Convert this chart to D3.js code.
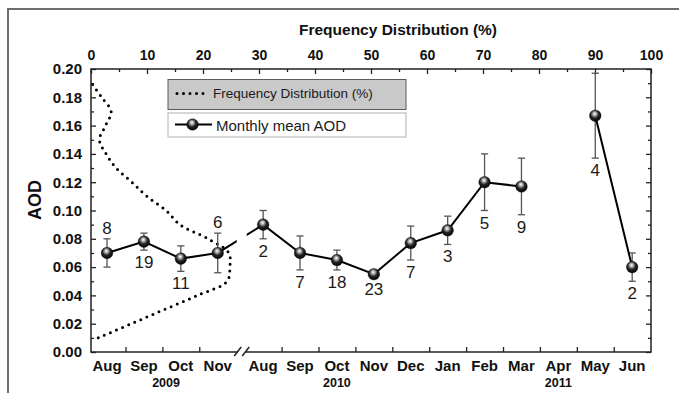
<!DOCTYPE html>
<html>
<head>
<meta charset="utf-8">
<script src="https://cdn.jsdelivr.net/npm/d3@7"></script>
<style>
  html, body { margin: 0; padding: 0; background: #fff; }
  svg { display: block; font-family: "Liberation Sans", Arial, sans-serif; }
</style>
</head>
<body>
<svg id="chart" width="679" height="393"></svg>
<script>
// Monthly categories along the bottom axis (2009 block, axis break, 2010-2011 block)
const months = ["Aug", "Sep", "Oct", "Nov", "Aug", "Sep", "Oct", "Nov", "Dec", "Jan", "Feb", "Mar", "Apr", "May", "Jun"];
const monthYears = [2009, 2009, 2009, 2009, 2010, 2010, 2010, 2010, 2010, 2011, 2011, 2011, 2011, 2011, 2011];

// Monthly mean AOD, its error (±) and number of observations
const aodMean = [0.070, 0.078, 0.066, 0.070, 0.090, 0.070, 0.065, 0.055, 0.077, 0.086, 0.120, 0.117, null, 0.167, 0.060];
const aodErr  = [0.010, 0.006, 0.009, 0.014, 0.010, 0.012, 0.007, 0.002, 0.012, 0.010, 0.020, 0.020, null, 0.030, 0.010];
const obsCount = [8, 19, 11, 6, 2, 7, 18, 23, 7, 3, 5, 9, null, 4, 2];
const countAbove = [true, false, false, true, false, false, false, false, false, false, false, false, false, false, false];

// Frequency distribution of AOD (%), by AOD level
const freqAOD = [0.01, 0.02, 0.03, 0.04, 0.05, 0.06, 0.07, 0.08, 0.09, 0.10, 0.11, 0.12, 0.13, 0.14, 0.15, 0.16, 0.17, 0.18, 0.19];
const freqPct = [1.3, 7.2, 13.1, 19.0, 24.3, 24.8, 24.6, 20.9, 15.9, 13.4, 10.0, 7.3, 4.5, 2.7, 1.5, 2.6, 3.6, 1.9, 0.1];

// Axis ticks
const aodTicks = [0.00, 0.02, 0.04, 0.06, 0.08, 0.10, 0.12, 0.14, 0.16, 0.18, 0.20];
const freqTicks = [0, 10, 20, 30, 40, 50, 60, 70, 80, 90, 100];
const yearLabels = ["2009", "2010", "2011"];

const svg = d3.select("#chart");
const plot = { left: 91, right: 651, top: 69, bottom: 352 };

// Month positions: the later block is shifted to leave room for the axis break
const slotOf = i => (i < 4 ? i : i + 0.23);
const breakSlot = 3.65;

const x = d3.scaleLinear().domain([-0.434, 14.74]).range([plot.left, plot.right]);
const y = d3.scaleLinear().domain([0, 0.2]).range([plot.bottom, plot.top]);
const xf = d3.scaleLinear().domain([0, 100]).range([plot.left, plot.right]);

const defs = svg.append("defs");
const grad = defs.append("radialGradient").attr("id", "ball")
  .attr("cx", "45%").attr("cy", "40%").attr("r", "62%")
  .attr("fx", "45%").attr("fy", "32%");
[["0%", "#ffffff"], ["22%", "#b8b8b8"], ["55%", "#262626"], ["100%", "#000000"]]
  .forEach(([o, c]) => grad.append("stop").attr("offset", o).attr("stop-color", c));

const breakX = x(breakSlot);
const clip = defs.append("clipPath").attr("id", "brk");
clip.append("rect").attr("x", 0).attr("y", 0).attr("width", breakX - 5).attr("height", 393);
clip.append("rect").attr("x", breakX + 5).attr("y", 0).attr("width", 679).attr("height", 393);

// Figure frame
svg.append("rect").attr("x", 8).attr("y", 9).attr("width", 700).attr("height", 400)
  .attr("fill", "none").attr("stroke", "#6e6e6e").attr("stroke-width", 2);

// Frequency distribution curve (dotted)
const freqLine = d3.line()
  .x(d => xf(d[1])).y(d => y(d[0]))
  .curve(d3.curveCatmullRom.alpha(0.5));
svg.append("path").datum(d3.zip(freqAOD, freqPct))
  .attr("d", freqLine).attr("fill", "none")
  .attr("stroke", "#000").attr("stroke-width", 3)
  .attr("stroke-linecap", "round").attr("stroke-dasharray", "0 6.6");

// Axes
const axisStyle = g => {
  g.select(".domain").remove();
  g.selectAll(".tick line").attr("stroke", "#222").attr("stroke-width", 1.3);
  g.selectAll(".tick text").attr("fill", "#111").attr("font-weight", "bold")
    .attr("font-family", "'Liberation Sans', Arial, sans-serif");
};
const minorAod = d3.range(1, 20, 2).map(v => v / 100);
const minorFreq = d3.range(5, 100, 10);

svg.append("g").attr("transform", `translate(${plot.left},0)`)
  .call(d3.axisLeft(y).tickValues(aodTicks).tickFormat(d3.format(".2f"))
    .tickSizeInner(-5).tickSizeOuter(0).tickPadding(9))
  .call(axisStyle)
  .call(g => g.selectAll(".tick text").attr("font-size", 15));
svg.append("g").attr("transform", `translate(${plot.left},0)`)
  .call(d3.axisLeft(y).tickValues(minorAod).tickFormat("").tickSizeInner(-3).tickSizeOuter(0))
  .call(axisStyle);
svg.append("g").attr("transform", `translate(${plot.right},0)`)
  .call(d3.axisRight(y).tickValues(aodTicks).tickFormat("").tickSizeInner(-5).tickSizeOuter(0))
  .call(axisStyle);
svg.append("g").attr("transform", `translate(${plot.right},0)`)
  .call(d3.axisRight(y).tickValues(minorAod).tickFormat("").tickSizeInner(-3).tickSizeOuter(0))
  .call(axisStyle);

svg.append("g").attr("transform", `translate(0,${plot.top})`)
  .call(d3.axisTop(xf).tickValues(freqTicks).tickFormat(d3.format("d"))
    .tickSizeInner(-5).tickSizeOuter(0).tickPadding(9))
  .call(axisStyle)
  .call(g => g.selectAll(".tick text").attr("font-size", 14));
svg.append("g").attr("transform", `translate(0,${plot.top})`)
  .call(d3.axisTop(xf).tickValues(minorFreq).tickFormat("").tickSizeInner(-3).tickSizeOuter(0))
  .call(axisStyle);

// Bottom ticks sit on the boundaries between months
const bounds = [];
for (let i = 0; i < months.length - 1; i++) {
  if (i === 3) continue;
  bounds.push((slotOf(i) + slotOf(i + 1)) / 2);
}
svg.append("g").attr("transform", `translate(0,${plot.bottom})`)
  .call(d3.axisBottom(x).tickValues(bounds).tickFormat("").tickSizeInner(-5).tickSizeOuter(0))
  .call(axisStyle);

// Plot frame with a broken bottom axis
const frame = svg.append("g").attr("stroke", "#222").attr("stroke-width", 1.5).attr("fill", "none");
frame.append("path").attr("d",
  `M${breakX - 4},${plot.bottom}H${plot.left}V${plot.top}H${plot.right}V${plot.bottom}H${breakX + 4}`);
[breakX - 4, breakX + 4].forEach(cx => {
  frame.append("line").attr("x1", cx - 3.5).attr("y1", plot.bottom + 4)
    .attr("x2", cx + 3.5).attr("y2", plot.bottom - 5);
});

// Month and year labels
svg.append("g").selectAll("text").data(months).join("text")
  .attr("x", (d, i) => x(slotOf(i))).attr("y", plot.bottom + 18.5)
  .attr("text-anchor", "middle").attr("font-size", 15).attr("font-weight", "bold")
  .attr("fill", "#111").text(d => d);

const yearCenter = yr => {
  const idx = monthYears.map((v, i) => (String(v) === yr ? i : -1)).filter(i => i >= 0);
  if (yr === "2011") return x(slotOf(idx[3]));
  return x(d3.mean(idx, slotOf) + (yr === "2009" ? 0.1 : 0));
};
svg.append("g").selectAll("text").data(yearLabels).join("text")
  .attr("x", d => yearCenter(d)).attr("y", plot.bottom + 35)
  .attr("text-anchor", "middle").attr("font-size", 12.5).attr("font-weight", "bold")
  .attr("fill", "#111").text(d => d);

// Axis titles
svg.append("text").attr("x", 398).attr("y", 35).attr("text-anchor", "middle")
  .attr("font-size", 15.5).attr("font-weight", "bold").attr("fill", "#111")
  .text("Frequency Distribution (%)");
svg.append("text").attr("transform", "translate(41,200) rotate(-90)")
  .attr("text-anchor", "middle").attr("font-size", 18).attr("font-weight", "bold")
  .attr("fill", "#111").text("AOD");

// Monthly mean series
const rows = months.map((m, i) => ({
  i, m, v: aodMean[i], e: aodErr[i], n: obsCount[i], above: countAbove[i]
}));
const valid = rows.filter(d => d.v != null);

const errG = svg.append("g").attr("stroke", "#555").attr("stroke-width", 1.3);
valid.forEach(d => {
  const cx = x(slotOf(d.i));
  errG.append("line").attr("x1", cx).attr("x2", cx).attr("y1", y(d.v - d.e)).attr("y2", y(d.v + d.e));
  [d.v - d.e, d.v + d.e].forEach(t => {
    errG.append("line").attr("x1", cx - 3.6).attr("x2", cx + 3.6).attr("y1", y(t)).attr("y2", y(t));
  });
});

const meanLine = d3.line()
  .defined(d => d.v != null)
  .x(d => x(slotOf(d.i))).y(d => y(d.v));
svg.append("path").datum(rows).attr("d", meanLine)
  .attr("clip-path", "url(#brk)")
  .attr("fill", "none").attr("stroke", "#000").attr("stroke-width", 2);

svg.append("g").selectAll("circle").data(valid).join("circle")
  .attr("cx", d => x(slotOf(d.i))).attr("cy", d => y(d.v)).attr("r", 5.8)
  .attr("fill", "url(#ball)").attr("stroke", "#000").attr("stroke-width", 0.4);

svg.append("g").selectAll("text").data(valid).join("text")
  .attr("x", d => x(slotOf(d.i)))
  .attr("y", d => d.above ? y(d.v + d.e) - 5 : y(d.v - d.e) + 18)
  .attr("text-anchor", "middle").attr("font-size", 17).attr("fill", "#1a1a1a")
  .text(d => d.n);

// Legend
const leg = svg.append("g");
leg.append("rect").attr("x", 168).attr("y", 79.5).attr("width", 238).attr("height", 30)
  .attr("fill", "#c9c9c9").attr("stroke", "#5a5a5a").attr("stroke-width", 1);
leg.append("line").attr("x1", 177).attr("x2", 204).attr("y1", 93.5).attr("y2", 93.5)
  .attr("stroke", "#000").attr("stroke-width", 3).attr("stroke-linecap", "round")
  .attr("stroke-dasharray", "0 6.5");
leg.append("text").attr("x", 213).attr("y", 97.5).attr("font-size", 13.5).attr("fill", "#1a1a1a")
  .text("Frequency Distribution (%)");
leg.append("rect").attr("x", 168).attr("y", 113).attr("width", 238).attr("height", 24)
  .attr("fill", "#fff").attr("stroke", "#b0b0b0").attr("stroke-width", 1);
leg.append("line").attr("x1", 175).attr("x2", 212).attr("y1", 124.5).attr("y2", 124.5)
  .attr("stroke", "#000").attr("stroke-width", 2);
leg.append("circle").attr("cx", 192.5).attr("cy", 124.5).attr("r", 5.8)
  .attr("fill", "url(#ball)").attr("stroke", "#000").attr("stroke-width", 0.4);
leg.append("text").attr("x", 216).attr("y", 130.5).attr("font-size", 15).attr("fill", "#1a1a1a")
  .text("Monthly mean AOD");
</script>
</body>
</html>
